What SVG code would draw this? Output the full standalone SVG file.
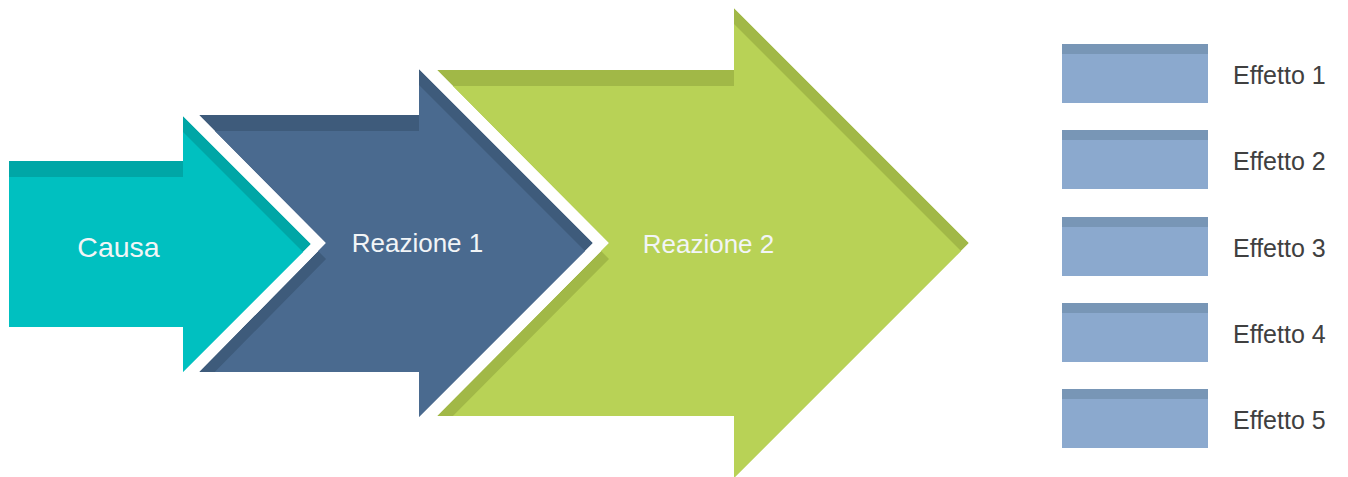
<svg xmlns="http://www.w3.org/2000/svg" width="1348" height="477" viewBox="0 0 1348 477">
  <style>
    .lbl { font-family: "Liberation Sans", Arial, sans-serif; fill: #F2F5F7; text-anchor: middle; }
    .eff { font-family: "Liberation Sans", Arial, sans-serif; font-size: 25px; fill: #404040; }
    .box { fill: #8BA9CE; }
    .band { fill: #7896B6; }
  </style>
  <defs>
    <polygon id="p-causa" points="9,161 183,161 183,116 311,244 183,372 183,327 9,327"/>
    <polygon id="p-r1" points="199,115 419,115 419,69 593,243 419,417 419,372 199,372 326,243"/>
    <polygon id="p-r2" points="437,70 734,70 734,8 969,243 734,478 734,416 437,416 609,243"/>
    <clipPath id="c-causa"><use href="#p-causa"/></clipPath>
    <clipPath id="c-r1"><use href="#p-r1"/></clipPath>
    <clipPath id="c-r2"><use href="#p-r2"/></clipPath>
  </defs>
  <rect width="1348" height="477" fill="#FFFFFF"/>

  <g id="reazione2">
    <g clip-path="url(#c-r2)">
      <use href="#p-r2" fill="#A1B847"/>
      <use href="#p-r2" fill="#B8D256" transform="translate(0,16)"/>
    </g>
    <text class="lbl" x="708.5" y="253" font-size="26">Reazione 2</text>
  </g>

  <g id="reazione1">
    <g clip-path="url(#c-r1)">
      <use href="#p-r1" fill="#3E5B7B"/>
      <use href="#p-r1" fill="#4A6A8F" transform="translate(0,16)"/>
    </g>
    <text class="lbl" x="417.5" y="252" font-size="26">Reazione 1</text>
  </g>

  <g id="causa">
    <g clip-path="url(#c-causa)">
      <use href="#p-causa" fill="#00A6A6"/>
      <use href="#p-causa" fill="#00C0C0" transform="translate(0,16)"/>
    </g>
    <text class="lbl" x="118.5" y="257" font-size="28.5">Causa</text>
  </g>

  <g id="effetto1">
    <rect class="box" x="1062" y="44" width="146" height="59"/>
    <rect class="band" x="1062" y="44" width="146" height="10"/>
    <text class="eff" x="1233" y="84">Effetto 1</text>
  </g>
  <g id="effetto2">
    <rect class="box" x="1062" y="130" width="146" height="59"/>
    <rect class="band" x="1062" y="130" width="146" height="10"/>
    <text class="eff" x="1233" y="170">Effetto 2</text>
  </g>
  <g id="effetto3">
    <rect class="box" x="1062" y="217" width="146" height="59"/>
    <rect class="band" x="1062" y="217" width="146" height="10"/>
    <text class="eff" x="1233" y="257">Effetto 3</text>
  </g>
  <g id="effetto4">
    <rect class="box" x="1062" y="303" width="146" height="59"/>
    <rect class="band" x="1062" y="303" width="146" height="10"/>
    <text class="eff" x="1233" y="343">Effetto 4</text>
  </g>
  <g id="effetto5">
    <rect class="box" x="1062" y="389" width="146" height="59"/>
    <rect class="band" x="1062" y="389" width="146" height="10"/>
    <text class="eff" x="1233" y="429">Effetto 5</text>
  </g>

  <g id="connectors"></g>
</svg>
